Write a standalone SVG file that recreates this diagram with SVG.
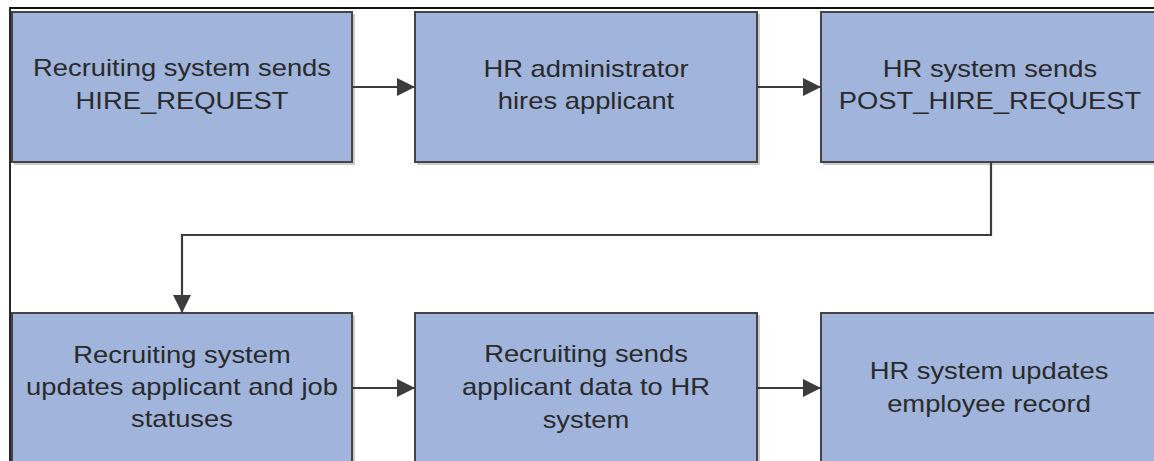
<svg xmlns="http://www.w3.org/2000/svg" width="1154" height="461" viewBox="0 0 1154 461">
  <style>
    .box { fill: #a0b4dc; stroke: #444444; stroke-width: 2; }
    .shadow { fill: none; stroke: #bbbbbb; stroke-width: 1.5; }
    .lbl { font-family: "Liberation Sans", Arial, sans-serif; font-size: 23px; fill: #2a2a2a; text-anchor: middle; }
    .conn { fill: none; stroke: #3c3c3c; stroke-width: 2.2; }
    .frame { fill: none; stroke: #111111; stroke-width: 1.8; }
  </style>
  <defs>
    <marker id="arrow" viewBox="0 0 18 18" refX="18" refY="9" markerWidth="18" markerHeight="18" markerUnits="userSpaceOnUse" orient="auto">
      <path d="M0,0 L18,9 L0,18 Z" fill="#3c3c3c"/>
    </marker>
  </defs>
  <rect width="1154" height="461" fill="#ffffff"/>
  <path class="frame" d="M10,470 L10,8 L1160,8"/>

  <g id="n1">
    <path class="shadow" d="M354,14 L354,164 L14,164"/>
    <rect class="box" x="12" y="12" width="340" height="150"/>
    <text class="lbl" transform="translate(182,0) scale(1.19,1)"><tspan x="0" y="76">Recruiting system sends</tspan><tspan x="0" y="109">HIRE_REQUEST</tspan></text>
  </g>
  <g id="n2">
    <path class="shadow" d="M759,14 L759,164 L417,164"/>
    <rect class="box" x="415" y="12" width="342" height="150"/>
    <text class="lbl" transform="translate(586,0) scale(1.19,1)"><tspan x="0" y="77">HR administrator</tspan><tspan x="0" y="109">hires applicant</tspan></text>
  </g>
  <g id="n3">
    <path class="shadow" d="M823,164 L1160,164"/>
    <rect class="box" x="821" y="12" width="342" height="150"/>
    <text class="lbl" transform="translate(990,0) scale(1.19,1)"><tspan x="0" y="77">HR system sends</tspan><tspan x="0" y="109">POST_HIRE_REQUEST</tspan></text>
  </g>
  <g id="n4">
    <path class="shadow" d="M354,315 L354,470"/>
    <rect class="box" x="12" y="313" width="340" height="160"/>
    <text class="lbl" transform="translate(182,0) scale(1.19,1)"><tspan x="0" y="363">Recruiting system</tspan><tspan x="0" y="395">updates applicant and job</tspan><tspan x="0" y="427">statuses</tspan></text>
  </g>
  <g id="n5">
    <path class="shadow" d="M759,315 L759,470"/>
    <rect class="box" x="415" y="313" width="342" height="160"/>
    <text class="lbl" transform="translate(586,0) scale(1.19,1)"><tspan x="0" y="362">Recruiting sends</tspan><tspan x="0" y="395">applicant data to HR</tspan><tspan x="0" y="428">system</tspan></text>
  </g>
  <g id="n6">
    <rect class="box" x="821" y="313" width="342" height="160"/>
    <text class="lbl" transform="translate(989,0) scale(1.19,1)"><tspan x="0" y="379">HR system updates</tspan><tspan x="0" y="412">employee record</tspan></text>
  </g>

  <g id="connectors">
    <path class="conn" d="M352,87 L415,87" marker-end="url(#arrow)"/>
    <path class="conn" d="M757,87 L821,87" marker-end="url(#arrow)"/>
    <path class="conn" d="M991,162 L991,235 L182,235 L182,313" marker-end="url(#arrow)"/>
    <path class="conn" d="M352,388 L415,388" marker-end="url(#arrow)"/>
    <path class="conn" d="M757,388 L821,388" marker-end="url(#arrow)"/>
  </g>
</svg>
